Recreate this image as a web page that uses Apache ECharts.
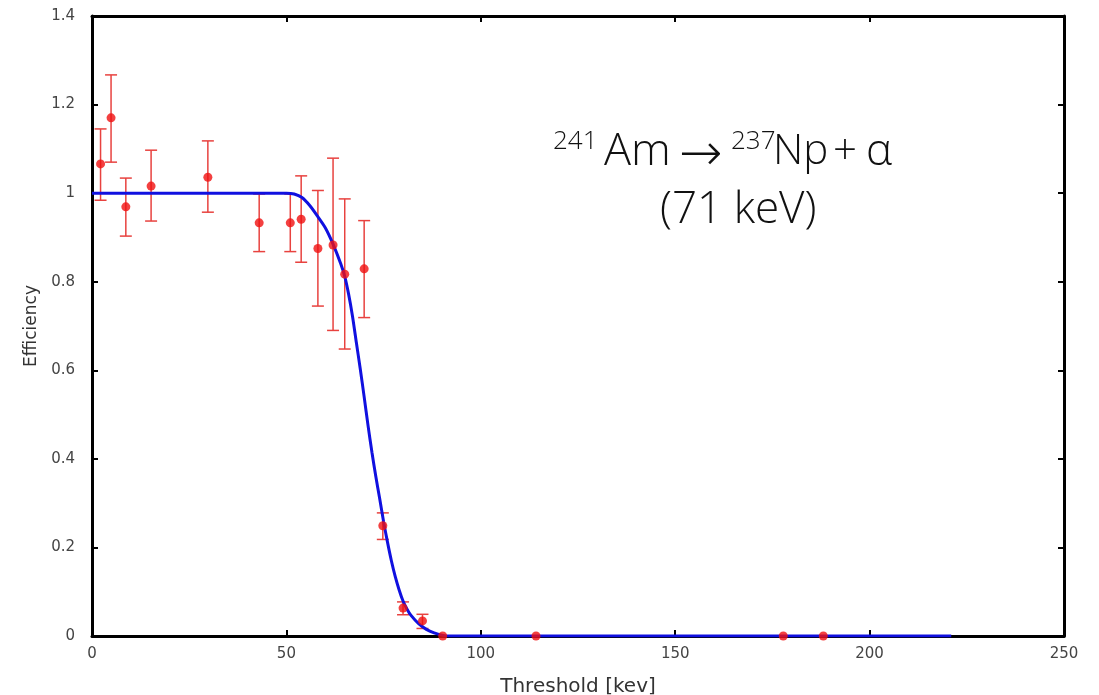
<!DOCTYPE html>
<html>
<head>
<meta charset="utf-8">
<script src="https://cdn.jsdelivr.net/npm/echarts@6/dist/echarts.min.js"></script>
<style>html,body{margin:0;padding:0;background:#fff;}#c{width:1099px;height:695px;}</style>
</head>
<body>
<div id="c"></div>
<script>
// Measured data points: threshold (keV), efficiency, error-bar low, error-bar high
const thresholds = [2.2, 4.9, 8.7, 15.2, 29.8, 43.0, 51.0, 53.8, 58.1, 62.0, 65.0, 70.0, 74.8, 80.0, 85.0, 90.2, 114.2, 177.8, 188.1];
const efficiency = [1.066, 1.170, 0.969, 1.016, 1.036, 0.933, 0.933, 0.941, 0.875, 0.883, 0.817, 0.829, 0.249, 0.063, 0.034, 0, 0, 0, 0];
const errLow     = [0.984, 1.070, 0.903, 0.937, 0.957, 0.868, 0.868, 0.844, 0.745, 0.690, 0.648, 0.719, 0.218, 0.048, 0.017, 0, 0, 0, 0];
const errHigh    = [1.145, 1.267, 1.034, 1.097, 1.118, 0.998, 0.998, 1.039, 1.006, 1.079, 0.987, 0.938, 0.278, 0.077, 0.049, 0, 0, 0, 0];

// Fit curve
const fitX = [0, 50, 52, 54, 56, 58, 60, 62, 64, 65, 66, 67, 68, 69, 70, 71, 72, 73, 74, 75, 76, 77, 78, 79, 80, 81, 82, 84, 86, 88, 90, 92, 221];
const fitY = [1, 1, 0.998, 0.99, 0.972, 0.948, 0.922, 0.885, 0.84, 0.812, 0.772, 0.722, 0.662, 0.603, 0.54, 0.475, 0.415, 0.36, 0.31, 0.258, 0.212, 0.17, 0.134, 0.104, 0.079, 0.061, 0.047, 0.028, 0.015, 0.007, 0.002, 0, 0];

const xTicks = [0, 50, 100, 150, 200, 250];
const yTicks = [0, 0.2, 0.4, 0.6, 0.8, 1, 1.2, 1.4];

const chart = echarts.init(document.getElementById('c'));
const labelFont = 'DejaVu Sans';
const axisLineStyle = { color: '#000', width: 3 };
const tickStyle = { color: '#000', width: 2 };
const annFont = 'Open Sans';
const annColor = '#111';

const errData = thresholds.map((x, i) => [x, errLow[i], errHigh[i]]).filter(d => d[2] > d[1]);

function ann(text, x, y, size, family) {
  return {
    type: 'text', x: x, y: y, z: 100,
    style: { text: text, fontSize: size, fontFamily: family || annFont, fontWeight: 300,
      fill: annColor, align: 'left', verticalAlign: 'middle' }
  };
}

chart.setOption({
  animation: false,
  backgroundColor: '#fff',
  grid: { left: 92, right: 35, top: 16, bottom: 59, containLabel: false, outerBoundsMode: 'none' },
  xAxis: [{
    type: 'value', min: 0, max: 250, interval: 50,
    axisLine: { show: true, onZero: false, lineStyle: axisLineStyle },
    axisTick: { show: true, inside: true, length: 6, lineStyle: tickStyle },
    axisLabel: { color: '#444', fontFamily: labelFont, fontSize: 15, margin: 11 },
    splitLine: { show: false },
    name: 'Threshold [kev]', nameLocation: 'middle', nameGap: 41,
    nameTextStyle: { color: '#333', fontFamily: labelFont, fontSize: 20 }
  }, {
    type: 'value', min: 0, max: 250, interval: 50, position: 'top',
    axisLine: { show: true, onZero: false, lineStyle: axisLineStyle },
    axisTick: { show: true, inside: true, length: 6, lineStyle: tickStyle },
    axisLabel: { show: false }, splitLine: { show: false }
  }],
  yAxis: [{
    type: 'value', min: 0, max: 1.4, interval: 0.2,
    axisLine: { show: true, onZero: false, lineStyle: axisLineStyle },
    axisTick: { show: true, inside: true, length: 6, lineStyle: tickStyle },
    axisLabel: { color: '#444', fontFamily: labelFont, fontSize: 15, margin: 17,
      formatter: v => String(Math.round(v * 10) / 10) },
    splitLine: { show: false },
    name: 'Efficiency', nameLocation: 'middle', nameGap: 52,
    nameTextStyle: { color: '#333', fontFamily: labelFont, fontSize: 17 }
  }, {
    type: 'value', min: 0, max: 1.4, interval: 0.2, position: 'right',
    axisLine: { show: true, onZero: false, lineStyle: axisLineStyle },
    axisTick: { show: true, inside: true, length: 6, lineStyle: tickStyle },
    axisLabel: { show: false }, splitLine: { show: false }
  }],
  graphic: [
    ann('241', 553, 142, 26),
    ann('Am', 604, 152, 45),
    ann('→', 679, 156, 52, 'DejaVu Sans'),
    ann('237', 731, 142, 26),
    ann('Np', 773, 152, 42),
    ann('+', 833, 152, 42),
    ann('α', 866, 152, 44),
    ann('(71 keV)', 660, 210, 44)
  ],
  series: [{
    type: 'custom',
    xAxisIndex: 0, yAxisIndex: 0,
    data: errData,
    z: 2,
    renderItem: function (params, api) {
      const x = api.value(0);
      const lo = api.coord([x, api.value(1)]);
      const hi = api.coord([x, api.value(2)]);
      const w = 6;
      const st = { stroke: '#e8423f', lineWidth: 1.5 };
      return {
        type: 'group',
        children: [
          { type: 'line', shape: { x1: lo[0], y1: lo[1], x2: hi[0], y2: hi[1] }, style: st },
          { type: 'line', shape: { x1: lo[0] - w, y1: lo[1], x2: lo[0] + w, y2: lo[1] }, style: st },
          { type: 'line', shape: { x1: hi[0] - w, y1: hi[1], x2: hi[0] + w, y2: hi[1] }, style: st }
        ]
      };
    }
  }, {
    type: 'line',
    data: fitX.map((x, i) => [x, fitY[i]]),
    showSymbol: false,
    smooth: 0.25,
    lineStyle: { color: '#1010e0', width: 3 },
    z: 3
  }, {
    type: 'scatter',
    data: thresholds.map((x, i) => [x, efficiency[i]]),
    symbol: 'circle', symbolSize: 9,
    itemStyle: { color: '#f01010' },
    z: 4
  }]
});
</script>
</body>
</html>
